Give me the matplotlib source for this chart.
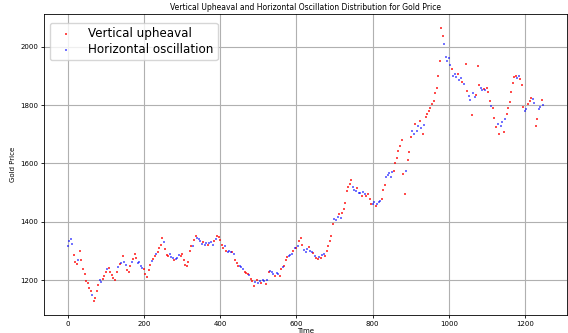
# Gold price scatter, split into vertical upheaval / horizontal oscillation points

import numpy as np
import matplotlib.pyplot as plt

# Gold price sampled every 4 trading days
step = 4
price = [
    1318, 1335, 1342, 1325, 1288, 1262, 1255, 1268, 1302, 1268,
    1238, 1222, 1196, 1190, 1172, 1165, 1150, 1128, 1138, 1162,
    1185, 1202, 1195, 1205, 1214, 1228, 1238, 1242, 1230, 1218,
    1208, 1202, 1228, 1246, 1256, 1258, 1282, 1262, 1252, 1236,
    1228, 1250, 1262, 1272, 1290, 1276, 1258, 1262, 1250, 1242,
    1238, 1222, 1212, 1235, 1252, 1266, 1272, 1284, 1290, 1296,
    1312, 1320, 1345, 1330, 1308, 1288, 1282, 1290, 1280, 1276,
    1268, 1272, 1278, 1285, 1282, 1290, 1268, 1252, 1250, 1262,
    1300, 1318, 1318, 1338, 1352, 1345, 1340, 1335, 1325, 1330,
    1322, 1328, 1320, 1326, 1330, 1322, 1335, 1342, 1352, 1348,
    1338, 1322, 1312, 1318, 1302, 1296, 1300, 1298, 1296, 1290,
    1270, 1258, 1250, 1248, 1244, 1240, 1230, 1225, 1220, 1218,
    1205, 1198, 1182, 1195, 1200, 1192, 1198, 1190, 1202, 1196,
    1188, 1200, 1228, 1232, 1228, 1222, 1215, 1225, 1220, 1215,
    1238, 1245, 1250, 1268, 1280, 1284, 1285, 1290, 1302, 1310,
    1312, 1318, 1335, 1345, 1320, 1305, 1298, 1308, 1315, 1302,
    1298, 1292, 1284, 1278, 1272, 1280, 1276, 1285, 1290, 1282,
    1300, 1318, 1335, 1350, 1392, 1410, 1408, 1418, 1428, 1415,
    1430, 1445, 1466, 1505, 1520, 1530, 1545, 1520, 1510, 1505,
    1515, 1500, 1498, 1490, 1502, 1495, 1488, 1495, 1478, 1462,
    1460, 1468, 1455, 1462, 1468, 1472, 1478, 1510, 1528, 1552,
    1560, 1568, 1555, 1572, 1575, 1602, 1620, 1642, 1660, 1680,
    1565, 1495, 1575, 1612, 1640, 1692, 1712, 1702, 1735, 1712,
    1728, 1745, 1722, 1700, 1732, 1760, 1768, 1780, 1790, 1805,
    1815, 1840, 1860, 1900, 1950, 2065, 2035, 2008, 1965, 1950,
    1962, 1938, 1922, 1900, 1905, 1895, 1908, 1885, 1892, 1880,
    1872, 1942, 1848, 1830, 1818, 1765, 1840, 1828, 1835, 1935,
    1870, 1858, 1850, 1856, 1852, 1860, 1845, 1815, 1798, 1790,
    1755, 1725, 1735, 1700, 1730, 1742, 1708, 1752, 1770, 1790,
    1812, 1845, 1875, 1895, 1900, 1892, 1898, 1888, 1868, 1795,
    1778, 1788, 1805, 1815, 1825, 1820, 1808, 1730, 1752, 1788,
    1792, 1818, 1800,
]

# r = vertical upheaval, b = horizontal oscillation
kind = (
    "bbbbrrrbrr" "rrrrrrbrrr" "rbbrrrbrrr" "rrrbrbrbbr" "rrbrrrbbbb"
    "rrrrrbrrbr" "rrrbrrrbbb" "rbbbrrrrrr" "rrbrrbbbbr" "bbrbbbrbrr"
    "rrrbrbbbrb" "rrrbbbrrrb" "rrrbrbbrbb" "rbrbbbrbbr" "rbrrrbbbrb"
    "rbrrrbbbrb" "brbrrbrbbr" "rrrrrbbbrb" "rrrrrrrbbb" "rbbrbbrrrr"
    "bbrbbbrrrb" "bbbbrrrrrr" "rrbrrrbbrb" "brbrbrrrrr" "rrrrrrrbbb"
    "bbrbbbrbbr" "brrbbrbbrr" "rbbrbrrrbr" "rrbrbbrbrr" "rrrrrbbrrr"
    "bbrrrbbrrb" "brb"
)

price = np.array(price)
time = np.arange(len(price)) * step
flags = np.array(list(kind))
up = flags == 'r'
osc = flags == 'b'

fig = plt.figure(figsize=(5.68, 3.33), dpi=100)
ax = fig.add_axes([44 / 568, 18 / 333, 523 / 568, 301 / 333])

ax.scatter(time[up], price[up], s=1.4, c='red', alpha=0.7, marker='s',
           linewidths=0, label='Vertical upheaval')
ax.scatter(time[osc], price[osc], s=1.4, c='blue', alpha=0.55, marker='s',
           linewidths=0, label='Horizontal oscillation')

ax.set_title('Vertical Upheaval and Horizontal Oscillation Distribution for Gold Price',
             fontsize=5.5, pad=3)
ax.set_xlabel('Time', fontsize=5, labelpad=1)
ax.set_ylabel('Gold Price', fontsize=5, labelpad=3)
ax.set_xticks(np.arange(0, 1201, 200))
ax.set_yticks(np.arange(1200, 2001, 200))
ax.tick_params(labelsize=5, length=2.5, width=0.6, pad=1.5)
ax.grid(True, color='#b0b0b0', linewidth=0.8)
ax.set_axisbelow(True)
for sp in ax.spines.values():
    sp.set_linewidth(0.6)

ax.legend(loc='upper left', fontsize=8.6, markerscale=1.0, handletextpad=0.85,
          borderpad=0.35, labelspacing=0.25, framealpha=0.8,
          bbox_to_anchor=(0.0, 0.99))

plt.savefig('out.png', dpi=100)
